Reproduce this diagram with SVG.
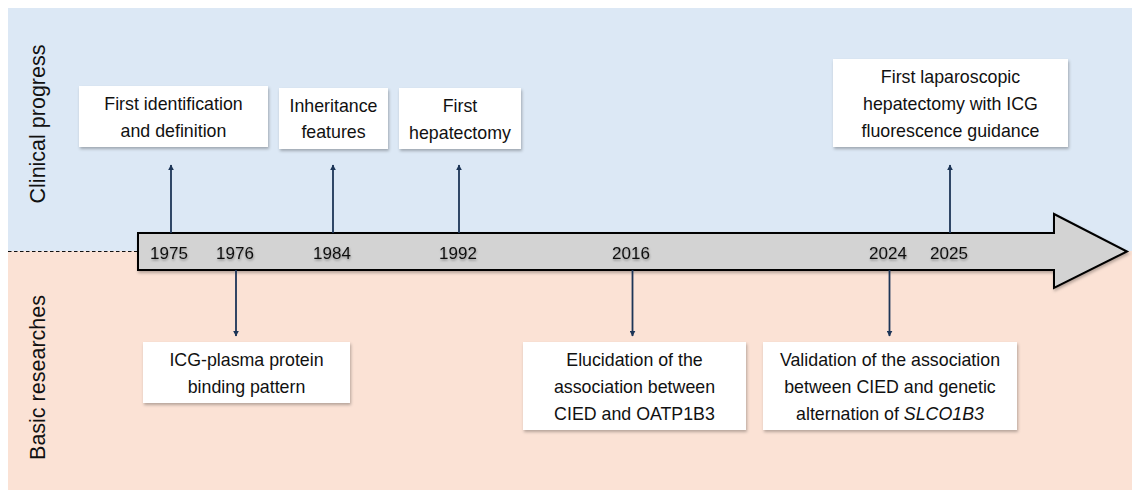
<svg xmlns="http://www.w3.org/2000/svg" width="1132" height="490" viewBox="0 0 1132 490">
<style>
.bt{font-family:"Liberation Sans",Arial,sans-serif;font-size:17.8px;fill:#111;text-anchor:middle}
.yr{font-family:"Liberation Sans",Arial,sans-serif;font-size:17px;fill:#111;text-anchor:middle}
.side{font-family:"Liberation Sans",Arial,sans-serif;font-size:21.5px;fill:#111;text-anchor:middle}
.box{fill:#ffffff}
.con{stroke:#1c3557;stroke-width:1.8;fill:none}
</style>
<defs>
<filter id="sh" x="-10%" y="-10%" width="130%" height="140%">
<feDropShadow dx="1" dy="2" stdDeviation="1.5" flood-color="#000" flood-opacity="0.28"/>
</filter>
<filter id="tsh" x="-10%" y="-20%" width="130%" height="160%">
<feDropShadow dx="0.5" dy="1.5" stdDeviation="1.2" flood-color="#000" flood-opacity="0.35"/>
</filter>
<marker id="ah" viewBox="0 0 10 10" refX="9" refY="5" markerWidth="6" markerHeight="6" markerUnits="userSpaceOnUse" orient="auto">
<path d="M0,0 L10,5 L0,10 z" fill="#1c3557"/>
</marker>
</defs>
<g id="background">
<rect x="8" y="8" width="1124" height="243" fill="#dce8f5"/>
<rect x="8" y="251" width="1124" height="239" fill="#fbe2d5"/>
<line x1="8" y1="251.5" x2="138" y2="251.5" stroke="#111" stroke-width="1" stroke-dasharray="3.5,2.5"/>
<text class="side" transform="translate(44.5,124) rotate(-90)">Clinical progress</text>
<text class="side" transform="translate(44.5,377.5) rotate(-90)">Basic researches</text>
</g>
<g id="timeline">
<path d="M138,233 L1054,233 L1054,214 L1127,251.5 L1054,288 L1054,270 L138,270 Z" fill="#d3d3d3" stroke="#000" stroke-width="2" stroke-linejoin="miter" filter="url(#sh)"/>
<g filter="url(#tsh)">
<text class="yr" x="169" y="259">1975</text>
<text class="yr" x="235" y="259">1976</text>
<text class="yr" x="332" y="259">1984</text>
<text class="yr" x="458" y="259">1992</text>
<text class="yr" x="631" y="259">2016</text>
<text class="yr" x="888" y="259">2024</text>
<text class="yr" x="949" y="259">2025</text>
</g>
</g>
<g id="connectors">
<line class="con" x1="171" y1="233" x2="171" y2="165" marker-end="url(#ah)"/>
<line class="con" x1="333" y1="233" x2="333" y2="165" marker-end="url(#ah)"/>
<line class="con" x1="459" y1="233" x2="459" y2="165" marker-end="url(#ah)"/>
<line class="con" x1="950" y1="233" x2="950" y2="165" marker-end="url(#ah)"/>
<line class="con" x1="236" y1="270" x2="236" y2="336" marker-end="url(#ah)"/>
<line class="con" x1="632.5" y1="270" x2="632.5" y2="336" marker-end="url(#ah)"/>
<line class="con" x1="889.5" y1="270" x2="889.5" y2="336" marker-end="url(#ah)"/>
</g>
<g id="node-1975">
<rect class="box" x="79" y="86" width="189" height="61" filter="url(#sh)"/>
<text class="bt" x="173.5" y="110">First identification</text>
<text class="bt" x="173.5" y="137">and definition</text>
</g>
<g id="node-1984">
<rect class="box" x="279" y="88" width="109" height="61" filter="url(#sh)"/>
<text class="bt" x="333.5" y="112">Inheritance</text>
<text class="bt" x="333.5" y="138">features</text>
</g>
<g id="node-1992">
<rect class="box" x="399" y="88" width="122" height="61" filter="url(#sh)"/>
<text class="bt" x="460" y="112">First</text>
<text class="bt" x="460" y="139">hepatectomy</text>
</g>
<g id="node-2025">
<rect class="box" x="833" y="59" width="235" height="88" filter="url(#sh)"/>
<text class="bt" x="950.5" y="83">First laparoscopic</text>
<text class="bt" x="950.5" y="110">hepatectomy with ICG</text>
<text class="bt" x="950.5" y="137">fluorescence guidance</text>
</g>
<g id="node-1976">
<rect class="box" x="143" y="342" width="207" height="61" filter="url(#sh)"/>
<text class="bt" x="246.5" y="366">ICG-plasma protein</text>
<text class="bt" x="246.5" y="393">binding pattern</text>
</g>
<g id="node-2016">
<rect class="box" x="523" y="342" width="223" height="88" filter="url(#sh)"/>
<text class="bt" x="634.5" y="366">Elucidation of the</text>
<text class="bt" x="634.5" y="393">association between</text>
<text class="bt" x="634.5" y="420">CIED and OATP1B3</text>
</g>
<g id="node-2024">
<rect class="box" x="763" y="342" width="254" height="88" filter="url(#sh)"/>
<text class="bt" x="890" y="366">Validation of the association</text>
<text class="bt" x="890" y="393">between CIED and genetic</text>
<text class="bt" x="890" y="420">alternation of <tspan font-style="italic">SLCO1B3</tspan></text>
</g>
</svg>
